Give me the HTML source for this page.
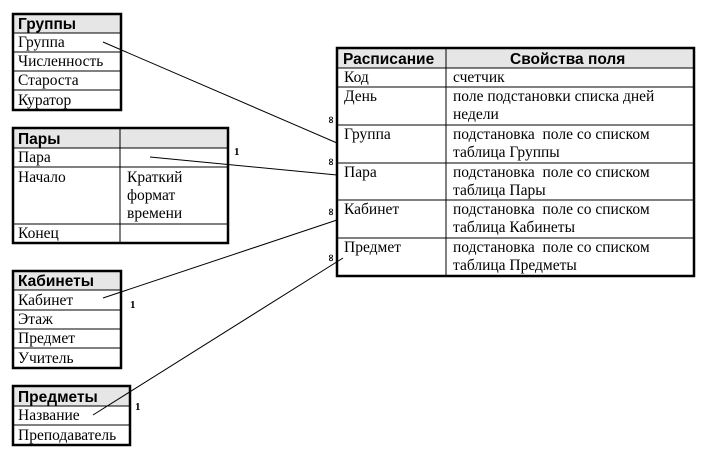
<!DOCTYPE html>
<html><head><meta charset="utf-8"><style>
body{margin:0;background:#fff;width:709px;height:456px;overflow:hidden}
svg{display:block}
.s{font-family:"Liberation Serif","Noto Serif CJK SC",serif;font-size:15.5px;fill:#000}
.h{font-family:"Liberation Sans","Noto Sans CJK SC",sans-serif;font-size:15.5px;font-weight:bold;fill:#000}
</style></head><body>
<svg width="709" height="456" viewBox="0 0 709 456" xmlns="http://www.w3.org/2000/svg">
<g fill="#e6e6e6">
<rect x="13" y="14" width="108" height="19"/>
<rect x="13" y="128" width="215" height="20"/>
<rect x="13" y="271" width="108" height="19"/>
<rect x="13" y="386" width="117" height="20"/>
<rect x="337" y="48" width="357" height="20"/>
</g>
<g stroke="#000" stroke-width="1" fill="none">
<line x1="13" y1="33" x2="121" y2="33"/><line x1="13" y1="52" x2="121" y2="52"/><line x1="13" y1="71" x2="121" y2="71"/><line x1="13" y1="90" x2="121" y2="90"/>
<line x1="13" y1="148" x2="228" y2="148"/><line x1="13" y1="167" x2="228" y2="167"/><line x1="13" y1="224" x2="228" y2="224"/><line x1="120" y1="128" x2="120" y2="243"/>
<line x1="13" y1="290" x2="121" y2="290"/><line x1="13" y1="310" x2="121" y2="310"/><line x1="13" y1="329" x2="121" y2="329"/><line x1="13" y1="348" x2="121" y2="348"/>
<line x1="13" y1="406" x2="130" y2="406"/><line x1="13" y1="425" x2="130" y2="425"/>
<line x1="337" y1="68" x2="694" y2="68"/><line x1="337" y1="87" x2="694" y2="87"/><line x1="337" y1="125" x2="694" y2="125"/><line x1="337" y1="163" x2="694" y2="163"/><line x1="337" y1="200" x2="694" y2="200"/><line x1="337" y1="238" x2="694" y2="238"/><line x1="446" y1="48" x2="446" y2="276"/>
<line x1="103" y1="42" x2="337" y2="143"/>
<line x1="150" y1="157" x2="337" y2="175"/>
<line x1="103" y1="298" x2="337" y2="220"/>
<line x1="93" y1="415" x2="343" y2="258"/>
</g>
<g stroke="#000" stroke-width="2.5" fill="none">
<rect x="13" y="14" width="108" height="96"/>
<rect x="13" y="128" width="215" height="115"/>
<rect x="13" y="271" width="108" height="97"/>
<rect x="13" y="386" width="117" height="59"/>
<rect x="337" y="48" width="357" height="228"/>
</g>
<text class="h" x="18" y="29">Группы</text>
<text class="s" x="18" y="47">Группа</text><text class="s" x="18" y="66">Численность</text><text class="s" x="18" y="85">Староста</text><text class="s" x="18" y="105">Куратор</text>
<text class="h" x="18" y="144">Пары</text>
<text class="s" x="18" y="162">Пара</text><text class="s" x="18" y="182">Начало</text><text class="s" x="127" y="182">Краткий</text><text class="s" x="127" y="200">формат</text><text class="s" x="127" y="218">времени</text><text class="s" x="18" y="238">Конец</text>
<text class="h" x="18" y="286">Кабинеты</text>
<text class="s" x="18" y="305">Кабинет</text><text class="s" x="18" y="324">Этаж</text><text class="s" x="18" y="343">Предмет</text><text class="s" x="18" y="363">Учитель</text>
<text class="h" x="18" y="402">Предметы</text>
<text class="s" x="18" y="420">Название</text><text class="s" x="18" y="440">Преподаватель</text>
<text class="h" x="343" y="64">Расписание</text><text class="h" x="510" y="64">Свойства поля</text>
<text class="s" x="344" y="82">Код</text><text class="s" x="453" y="82">счетчик</text>
<text class="s" x="344" y="101">День</text><text class="s" x="453" y="101">поле подстановки списка дней</text><text class="s" x="453" y="119">недели</text>
<text class="s" x="344" y="139">Группа</text><text class="s" x="453" y="139" xml:space="preserve">подстановка  поле со списком</text><text class="s" x="453" y="157">таблица Группы</text>
<text class="s" x="344" y="177">Пара</text><text class="s" x="453" y="177" xml:space="preserve">подстановка  поле со списком</text><text class="s" x="453" y="195">таблица Пары</text>
<text class="s" x="344" y="214">Кабинет</text><text class="s" x="453" y="214" xml:space="preserve">подстановка  поле со списком</text><text class="s" x="453" y="232">таблица Кабинеты</text>
<text class="s" x="344" y="252">Предмет</text><text class="s" x="453" y="252" xml:space="preserve">подстановка  поле со списком</text><text class="s" x="453" y="270">таблица Предметы</text>
<g class="s" style="font-size:11px;font-weight:bold">
<text x="234" y="155">1</text><text x="130" y="308">1</text><text x="135" y="410">1</text>
</g>
<g style="font-family:'DejaVu Sans',sans-serif;font-size:10px;font-weight:bold" fill="#000">
<text transform="translate(334,124) rotate(-90)">∞</text>
<text transform="translate(334,166) rotate(-90)">∞</text>
<text transform="translate(334,216) rotate(-90)">∞</text>
<text transform="translate(334,262) rotate(-90)">∞</text>
</g>
</svg>
</body></html>
